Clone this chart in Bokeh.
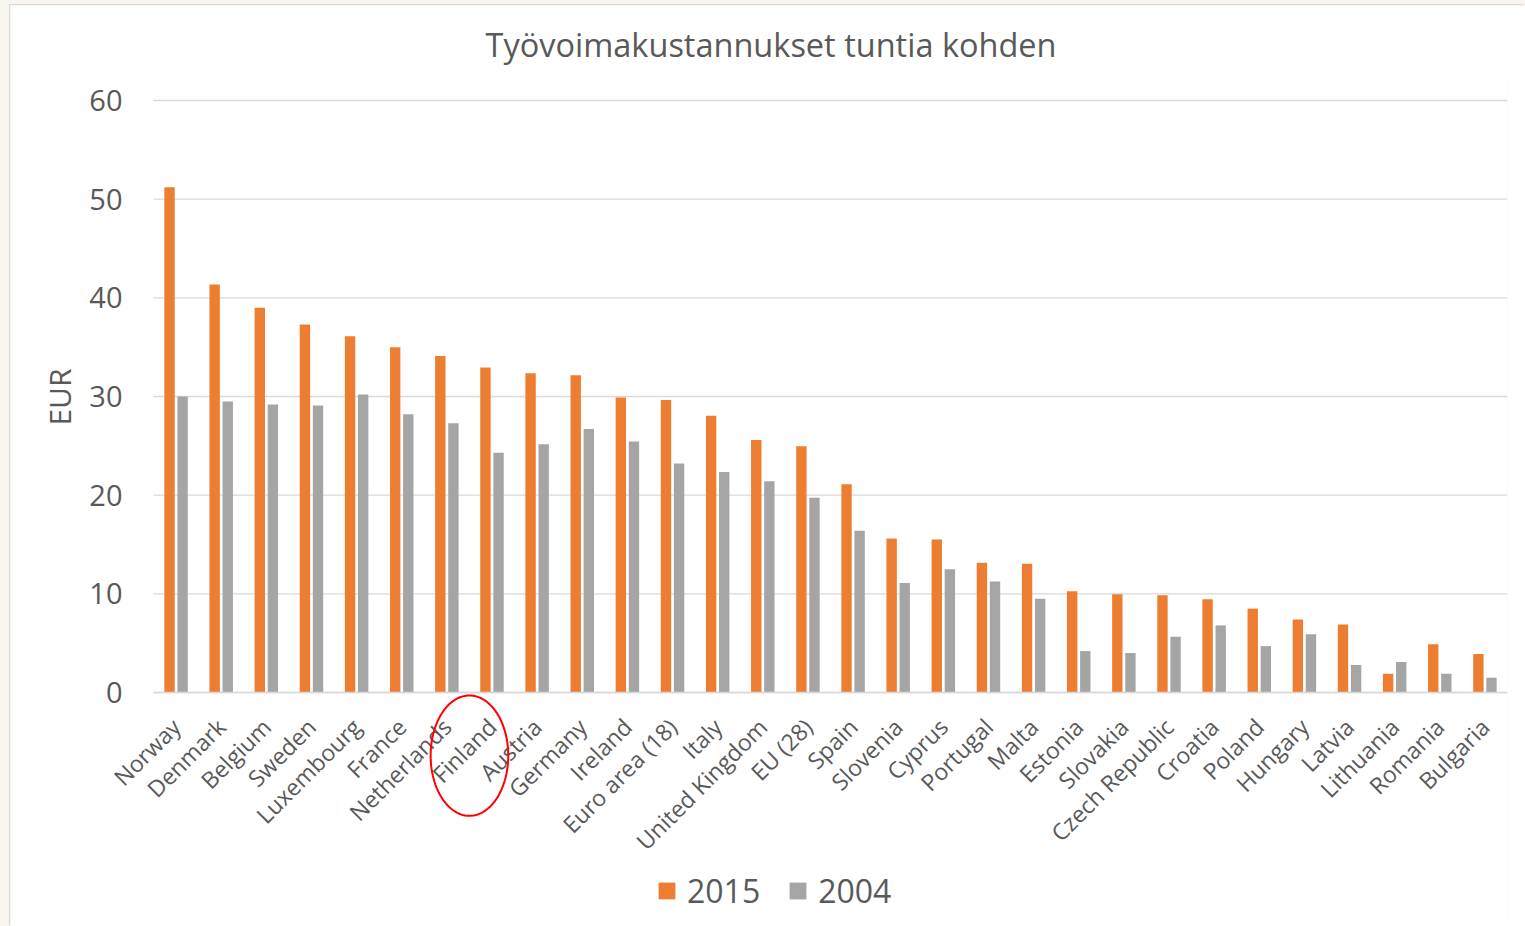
import math
import numpy as np
from bokeh.plotting import figure
from bokeh.models import (ColumnDataSource, Range1d, FixedTicker, Legend, LegendItem,
                          PolyAnnotation, Title)
from bokeh.transform import dodge
from bokeh.embed import file_html
from bokeh.resources import INLINE

# ---- data ----
countries = ["Norway", "Denmark", "Belgium", "Sweden", "Luxembourg", "France", "Netherlands",
             "Finland", "Austria", "Germany", "Ireland", "Euro area (18)", "Italy",
             "United Kingdom", "EU (28)", "Spain", "Slovenia", "Cyprus", "Portugal", "Malta",
             "Estonia", "Slovakia", "Czech Republic", "Croatia", "Poland", "Hungary", "Latvia",
             "Lithuania", "Romania", "Bulgaria"]
cost_2015 = [51.2, 41.35, 39.0, 37.3, 36.1, 35.0, 34.1, 32.95, 32.35, 32.15, 29.9, 29.65, 28.05,
             25.6, 24.95, 21.1, 15.6, 15.5, 13.15, 13.05, 10.25, 9.95, 9.85, 9.45, 8.5, 7.4, 6.9,
             1.9, 4.9, 3.9]
cost_2004 = [30.0, 29.5, 29.2, 29.1, 30.2, 28.2, 27.3, 24.3, 25.15, 26.7, 25.45, 23.2, 22.35,
             21.4, 19.75, 16.4, 11.1, 12.5, 11.25, 9.5, 4.2, 4.0, 5.65, 6.8, 4.7, 5.9, 2.8,
             3.1, 1.9, 1.5]
series_labels = ["2015", "2004"]
y_ticks = [0, 10, 20, 30, 40, 50, 60]
title_text = "Työvoimakustannukset tuntia kohden"
y_label = "EUR"
highlight = "Finland"

FONT = "Open Sans"
TXT = "#595959"
ORANGE = "#ED7D31"
GREY = "#A5A5A5"
GRID = "#D9D9D9"
PAGE_BG = "#F8F4EE"

n = len(countries)
idx = list(range(n))
src = ColumnDataSource(dict(idx=idx, country=countries, v2015=cost_2015, v2004=cost_2004))
first, last = idx[0] - 0.5, idx[-1] + 0.5

# The frame reaches below zero and left of the first category so that the rotated labels,
# the highlight ellipse and the legend are all drawn inside it.
p = figure(x_range=Range1d(first - 1.5067, last), y_range=Range1d(-23.31, 61.926),
           width=1515, height=921,
           min_border_left=75, min_border_right=18, min_border_top=76, min_border_bottom=4,
           output_backend="svg", toolbar_location=None, tools="",
           styles={"margin-left": "10px", "margin-top": "5px",
                   "box-shadow": "-1px -1px 0 0 #D9D9D9"})
p.outline_line_color = None
p.background_fill_color = "white"
p.border_fill_color = "white"
p.grid.visible = False

# horizontal gridlines limited to the category span
p.segment(x0=[first] * len(y_ticks), x1=[last] * len(y_ticks), y0=y_ticks, y1=y_ticks,
          line_color=GRID, line_width=1.3)

r1 = p.vbar(x=dodge("idx", -0.145), top="v2015", width=0.23,
            source=src, fill_color=ORANGE, line_color=None)
r2 = p.vbar(x=dodge("idx", 0.145), top="v2004", width=0.23,
            source=src, fill_color=GREY, line_color=None)

# y axis at the left edge of the categories
p.yaxis.fixed_location = first
p.yaxis.ticker = FixedTicker(ticks=y_ticks)
p.yaxis.axis_line_color = None
p.yaxis.major_tick_line_color = None
p.yaxis.minor_tick_line_color = None
p.yaxis.major_tick_out = 0
p.yaxis.major_label_standoff = 31
p.yaxis.major_label_text_font = FONT
p.yaxis.major_label_text_font_size = "29px"
p.yaxis.major_label_text_color = TXT

# y axis title beside the 0..60 part
p.add_layout(Title(text=y_label, align="right", offset=287, vertical_align="middle",
                   standoff=10, text_font=FONT, text_font_size="30px",
                   text_font_style="normal", text_color=TXT), "left")

# x axis drawn at y = 0, one label per category
p.xaxis.fixed_location = 0
p.xaxis.bounds = (first, last)
p.xaxis.ticker = FixedTicker(ticks=idx)
p.xaxis.major_label_overrides = {i: c for i, c in zip(idx, countries)}
p.xaxis.axis_line_color = GRID
p.xaxis.axis_line_width = 1.6
p.xaxis.major_tick_line_color = None
p.xaxis.minor_tick_line_color = None
p.xaxis.major_tick_out = 0
p.xaxis.major_label_orientation = math.pi / 4
p.xaxis.major_label_standoff = 30
p.xaxis.major_label_text_font = FONT
p.xaxis.major_label_text_font_size = "23px"
p.xaxis.major_label_text_color = TXT

# chart title
p.title.text = title_text
p.title.align = "left"
p.title.offset = 400
p.title.vertical_align = "middle"
p.title.standoff = 28
p.title.text_font = FONT
p.title.text_font_size = "32.5px"
p.title.text_font_style = "normal"
p.title.text_color = TXT

# highlight ellipse around the Finland label
fi = countries.index(highlight)
t = np.linspace(0, 2 * np.pi, 120)
p.add_layout(PolyAnnotation(xs=list(fi - 0.5 + 0.86 * np.cos(t)),
                            ys=list(-6.4 + 6.1 * np.sin(t)),
                            fill_alpha=0, line_color="#FF0000", line_alpha=1.0, line_width=2))

legend = Legend(items=[LegendItem(label=series_labels[0], renderers=[r1]),
                       LegendItem(label=series_labels[1], renderers=[r2])],
                orientation="horizontal", location=(571, 10),
                label_text_font=FONT, label_text_font_size="32px", label_text_color=TXT,
                glyph_width=21, glyph_height=21, label_standoff=10, spacing=27,
                padding=0, margin=0, border_line_alpha=0, background_fill_alpha=0)
p.add_layout(legend, "center")

html = file_html(p, INLINE)
html = html.replace("</head>", "<style>body { background: %s; }</style>\n</head>" % PAGE_BG, 1)
open("out.html", "w").write(html)
